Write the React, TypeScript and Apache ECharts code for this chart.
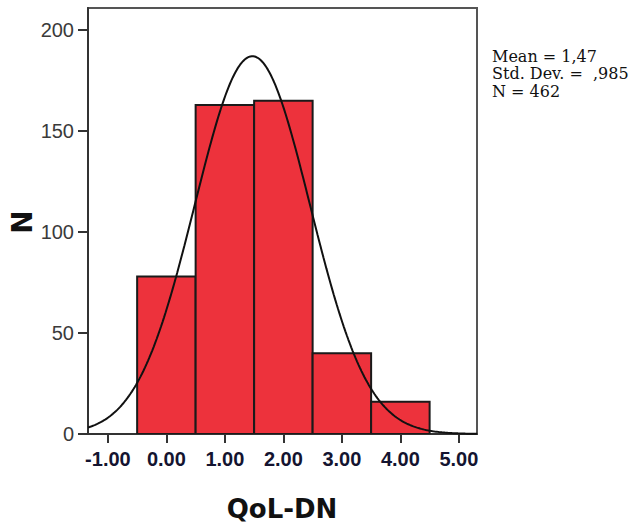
import React, { useEffect, useRef } from "react";
import * as echarts from "echarts";

// Histogram bins (lower edge, upper edge) and counts
const binStarts = [-0.5, 0.5, 1.5, 2.5, 3.5];
const binEnds = [0.5, 1.5, 2.5, 3.5, 4.5];
const counts = [78, 163, 165, 40, 16];

// Summary statistics shown in the legend
const meanValue = 1.47;
const stdDev = 0.985;
const nTotal = 462;
const statLines = ["Mean = 1,47", "Std. Dev. =  ,985", "N = 462"];

// Axis tick values
const xTicks = [-1, 0, 1, 2, 3, 4, 5];
const yTicks = [0, 50, 100, 150, 200];
const xMin = -1.34;
const xMax = 5.31;
const yMax = 211;

export default function App() {
  const ref = useRef<HTMLDivElement>(null);

  useEffect(() => {
    if (!ref.current) return;
    const chart = echarts.init(ref.current, null, { renderer: "svg" });

    const binWidth = 1;
    const scale = (nTotal * binWidth) / (stdDev * Math.sqrt(2 * Math.PI));
    const curve: number[][] = [];
    for (let i = 0; i <= 266; i++) {
      const x = xMin + ((xMax - xMin) * i) / 266;
      const z = (x - meanValue) / stdDev;
      curve.push([x, scale * Math.exp(-0.5 * z * z)]);
    }

    const bars = binStarts.map((s, i) => [s, binEnds[i], counts[i]]);

    const option: any = {
      animation: false,
      backgroundColor: "#ffffff",
      grid: {
        left: 88,
        top: 8,
        right: 159,
        bottom: 91,
        show: true,
        borderColor: "#555555",
        borderWidth: 2,
        backgroundColor: "#ffffff",
      },
      xAxis: {
        type: "value",
        min: xMin,
        max: xMax,
        splitLine: { show: false },
        axisLine: { show: true, onZero: false, lineStyle: { color: "#333333", width: 2 } },
        axisTick: {
          show: true,
          length: 9,
          customValues: xTicks,
          lineStyle: { color: "#333333", width: 2 },
        },
        axisLabel: {
          customValues: xTicks,
          formatter: (v: number) => v.toFixed(2),
          fontFamily: "Liberation Sans",
          fontSize: 20,
          fontWeight: "bold",
          color: "#141430",
          margin: 15,
        },
      },
      yAxis: {
        type: "value",
        min: 0,
        max: yMax,
        splitLine: { show: false },
        axisLine: { show: true, onZero: false, lineStyle: { color: "#333333", width: 2 } },
        axisTick: {
          show: true,
          length: 10,
          customValues: yTicks,
          lineStyle: { color: "#333333", width: 2 },
        },
        axisLabel: {
          customValues: yTicks,
          fontFamily: "Liberation Sans",
          fontSize: 20,
          color: "#3a3a3a",
          margin: 14,
        },
      },
      series: [
        {
          type: "custom",
          data: bars,
          encode: { x: [0, 1], y: 2 },
          clip: true,
          z: 2,
          renderItem: (params: any, api: any) => {
            const x0 = api.value(0);
            const x1 = api.value(1);
            const y = api.value(2);
            const p0 = api.coord([x0, y]);
            const p1 = api.coord([x1, 0]);
            return {
              type: "rect",
              shape: { x: p0[0], y: p0[1], width: p1[0] - p0[0], height: p1[1] - p0[1] },
              style: { fill: "#ED323C", stroke: "#1a1a1a", lineWidth: 2 },
            };
          },
        },
        {
          type: "line",
          data: curve,
          showSymbol: false,
          symbol: "none",
          clip: true,
          z: 3,
          lineStyle: { color: "#111111", width: 2 },
        },
      ],
      graphic: [
        {
          type: "text",
          x: 22,
          y: 222,
          rotation: Math.PI / 2,
          style: {
            text: "N",
            fontFamily: "DejaVu Sans",
            fontWeight: "bold",
            fontSize: 28,
            fill: "#111111",
            textAlign: "center",
            textVerticalAlign: "middle",
          },
        },
        {
          type: "text",
          x: 282,
          y: 509,
          style: {
            text: "QoL-DN",
            fontFamily: "DejaVu Sans",
            fontWeight: "bold",
            fontSize: 26,
            fill: "#111111",
            textAlign: "center",
            textVerticalAlign: "middle",
          },
        },
        ...statLines.map((t, i) => ({
          type: "text",
          x: 492,
          y: 56 + i * 17.5,
          style: {
            text: t,
            fontFamily: "DejaVu Serif",
            fontSize: 16,
            fill: "#111111",
            textAlign: "left",
            textVerticalAlign: "middle",
          },
        })),
      ],
    };

    chart.setOption(option);
    return () => chart.dispose();
  }, []);

  return (
    <div
      ref={ref}
      style={{ position: "absolute", left: 0, top: 0, width: 636, height: 525, background: "#fff" }}
    />
  );
}
